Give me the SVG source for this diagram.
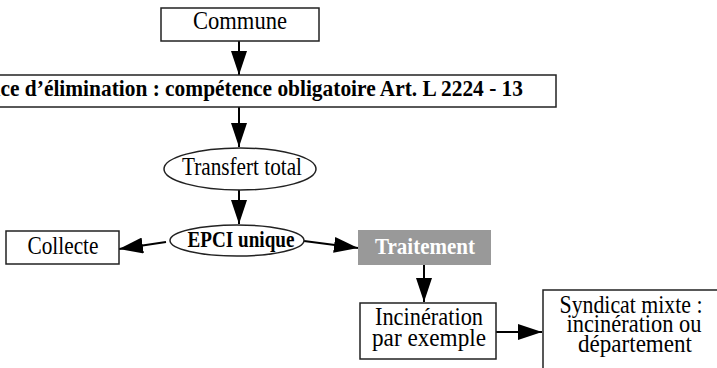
<svg xmlns="http://www.w3.org/2000/svg" width="717" height="368" viewBox="0 0 717 368">
<style>
.box{fill:#fff;stroke:#222;stroke-width:1.5}
.t{font-family:"Liberation Serif","Times New Roman",serif;font-size:25px;fill:#000;text-anchor:middle}
.b{font-weight:bold;font-size:24px}
.w{fill:#fff}
.c{stroke:#000;stroke-width:2;fill:none}
</style>
<defs>
<marker id="ah" markerUnits="userSpaceOnUse" markerWidth="26" markerHeight="16" refX="24" refY="8" orient="auto">
<path d="M0,0 L24,8 L0,16 Z" fill="#000"/>
</marker>
</defs>
<rect width="717" height="368" fill="#fff"/>
<g id="connectors">
<line class="c" x1="239" y1="41" x2="239" y2="75" marker-end="url(#ah)"/>
<line class="c" x1="239" y1="107" x2="239" y2="147" marker-end="url(#ah)"/>
<line class="c" x1="239" y1="190" x2="239" y2="224" marker-end="url(#ah)"/>
<line class="c" x1="166" y1="242" x2="119" y2="249" marker-end="url(#ah)"/>
<line class="c" x1="304" y1="241" x2="358" y2="248" marker-end="url(#ah)"/>
<line class="c" x1="424" y1="265" x2="424" y2="302" marker-end="url(#ah)"/>
<line class="c" x1="496" y1="332" x2="542" y2="332" marker-end="url(#ah)"/>
</g>
<g id="commune">
<rect class="box" x="161" y="8" width="158" height="33"/>
<text class="t" x="240" y="29" textLength="94" lengthAdjust="spacingAndGlyphs">Commune</text>
</g>
<g id="service">
<rect class="box" x="-80" y="75" width="636" height="32"/>
<text class="t b" x="523" y="96" style="text-anchor:end" textLength="570" lengthAdjust="spacingAndGlyphs">Service d’élimination : compétence obligatoire Art. L 2224 - 13</text>
</g>
<g id="transfert">
<ellipse class="box" cx="240" cy="169" rx="76" ry="21"/>
<text class="t" x="242" y="175" textLength="120" lengthAdjust="spacingAndGlyphs">Transfert total</text>
</g>
<g id="epci">
<ellipse class="box" cx="237" cy="240.5" rx="67" ry="15.5"/>
<text class="t b" x="241" y="247" textLength="107" lengthAdjust="spacingAndGlyphs">EPCI unique</text>
</g>
<g id="collecte">
<rect class="box" x="6" y="231" width="113" height="33"/>
<text class="t" x="63" y="254" textLength="71" lengthAdjust="spacingAndGlyphs">Collecte</text>
</g>
<g id="traitement">
<rect x="358" y="230" width="133" height="35" fill="#999"/>
<text class="t b w" x="425" y="254" textLength="100" lengthAdjust="spacingAndGlyphs">Traitement</text>
</g>
<g id="incineration">
<rect class="box" x="360" y="303" width="136" height="56"/>
<text class="t" x="429" y="325" textLength="108" lengthAdjust="spacingAndGlyphs">Incinération</text>
<text class="t" x="429" y="346" textLength="114" lengthAdjust="spacingAndGlyphs">par exemple</text>
</g>
<g id="syndicat">
<rect class="box" x="543" y="290" width="180" height="90"/>
<text class="t" x="631" y="313" textLength="143" lengthAdjust="spacingAndGlyphs">Syndicat mixte :</text>
<text class="t" x="634" y="332" textLength="135" lengthAdjust="spacingAndGlyphs">incinération ou</text>
<text class="t" x="635" y="352" textLength="114" lengthAdjust="spacingAndGlyphs">département</text>
</g>
</svg>
